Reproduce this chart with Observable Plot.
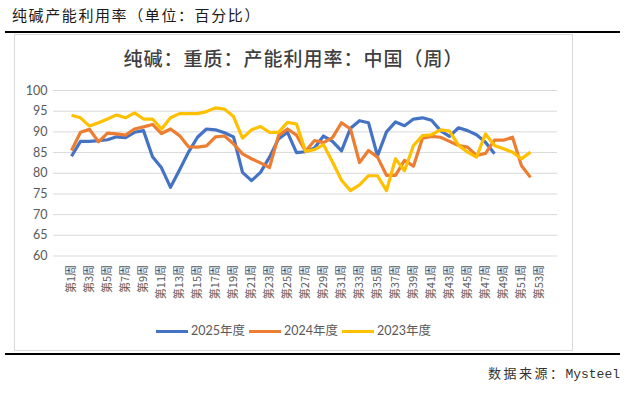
<!DOCTYPE html>
<html>
<head>
<meta charset="utf-8">
<script src="https://cdn.jsdelivr.net/npm/d3@7"></script>
<script src="https://cdn.jsdelivr.net/npm/@observablehq/plot@0.6"></script>
<style>
  html, body { margin: 0; padding: 0; background: #fff; }
  body { width: 629px; height: 393px; position: relative; overflow: hidden; font-family: "Noto Sans CJK SC", sans-serif; }
  #title { position: absolute; left: 12px; top: 5px; font-size: 15px; line-height: 20px; color: #1a1a1a; letter-spacing: 1.6px; }
  #topline { position: absolute; left: 5px; top: 31px; width: 615px; height: 2px; background: #000; }
  #box { position: absolute; left: 14px; top: 34px; width: 559px; height: 317px; border: 1px solid #d9d9d9; box-sizing: border-box; background: #fff; }
  #ctitle { position: absolute; left: 14px; width: 559px; top: 47px; text-align: center; font-size: 19px; line-height: 22px; color: #404040; letter-spacing: 1px; font-weight: 500; }
  #chart { position: absolute; left: 14px; top: 70px; }
  #legend { position: absolute; left: 14px; width: 559px; top: 323px; display: flex; justify-content: center; align-items: center; font-family: Lato, "Noto Sans CJK SC", sans-serif; font-size: 12.5px; color: #595959; line-height: 16px; }
  #legend .item { display: flex; align-items: center; margin: 0 2px; }
  #legend .sw { display: inline-block; width: 32px; height: 3px; margin-right: 3px; }
  #botline { position: absolute; left: 5px; top: 353px; width: 615px; height: 2px; background: #000; }
  #source { position: absolute; right: 9px; top: 364px; font-size: 13px; line-height: 18px; color: #333; }
  #source .cjk { letter-spacing: 2.5px; }
  #source .lat { font-family: "Liberation Mono", monospace; font-size: 13px; }
</style>
</head>
<body>
<div id="title">纯碱产能利用率（单位：百分比）</div>
<div id="topline"></div>
<div id="box"></div>
<div id="ctitle">纯碱：重质：产能利用率：中国（周）</div>
<div id="chart"></div>
<div id="legend"></div>
<div id="botline"></div>
<div id="source"><span class="cjk">数据来源：</span><span class="lat">Mysteel</span></div>
<script>
const weeks = ["第1周","第2周","第3周","第4周","第5周","第6周","第7周","第8周","第9周","第10周",
  "第11周","第12周","第13周","第14周","第15周","第16周","第17周","第18周","第19周","第20周",
  "第21周","第22周","第23周","第24周","第25周","第26周","第27周","第28周","第29周","第30周",
  "第31周","第32周","第33周","第34周","第35周","第36周","第37周","第38周","第39周","第40周",
  "第41周","第42周","第43周","第44周","第45周","第46周","第47周","第48周","第49周","第50周",
  "第51周","第52周","第53周"];

const yTicks = [60, 65, 70, 75, 80, 85, 90, 95, 100];

const seriesNames = ["2025年度", "2024年度", "2023年度"];
const seriesColors = ["#4472C4", "#ED7D31", "#FFC000"];

const values2025 = [84.1, 87.7, 87.7, 87.9, 88.1, 88.8, 88.6, 89.9, 90.3, 84.0,
  81.3, 76.6, 80.8, 85.1, 88.7, 90.7, 90.5, 89.8, 88.8, 80.2,
  78.2, 80.2, 83.9, 88.3, 89.9, 85.0, 85.2, 86.1, 89.0, 87.7,
  85.4, 90.9, 92.7, 92.2, 84.2, 90.0, 92.4, 91.5, 93.1, 93.4,
  92.8, 90.3, 88.9, 91.0, 90.3, 89.3, 87.5, 84.7];

const values2024 = [85.5, 89.9, 90.6, 87.6, 89.7, 89.5, 89.2, 90.7, 91.2, 91.8,
  89.6, 90.7, 89.1, 86.4, 86.3, 86.6, 88.8, 89.0, 87.1, 84.7,
  83.5, 82.5, 81.4, 89.1, 90.7, 89.2, 85.3, 87.9, 87.4, 88.6,
  92.2, 90.7, 82.6, 85.5, 83.9, 79.5, 79.5, 83.1, 81.7, 88.5,
  88.9, 88.7, 87.7, 86.7, 86.3, 84.3, 84.8, 88.0, 88.0, 88.7,
  81.8, 79.0];

const values2023 = [94.0, 93.4, 91.4, 92.2, 93.1, 94.1, 93.4, 94.6, 93.1, 93.1,
  90.7, 93.4, 94.4, 94.4, 94.4, 94.9, 95.8, 95.5, 93.7, 88.5,
  90.5, 91.3, 89.9, 89.9, 92.3, 91.9, 85.3, 85.7, 86.9, 82.7,
  78.3, 75.8, 77.2, 79.4, 79.4, 75.8, 83.5, 80.6, 86.7, 89.1,
  89.3, 90.5, 90.2, 86.8, 85.1, 83.9, 89.5, 86.7, 85.9, 85.1,
  83.5, 85.1];

const allValues = [values2025, values2024, values2023];
const oddWeeks = weeks.filter((w, i) => i % 2 === 0);

const lineMarks = allValues.map((vals, k) =>
  Plot.lineY(vals.map((v, i) => ({week: weeks[i], value: v})), {
    x: "week", y: "value", stroke: seriesColors[k], strokeWidth: 3.2,
    strokeLinejoin: "round", strokeLinecap: "butt"
  })
);

const chart = Plot.plot({
  width: 559,
  height: 236,
  marginLeft: 39,
  marginRight: 16,
  marginTop: 20,
  marginBottom: 50.5,
  style: {background: "transparent", fontFamily: "'Noto Sans CJK SC', sans-serif", fontSize: "11px", color: "#595959", overflow: "visible"},
  x: {type: "point", domain: weeks, padding: 0.5},
  y: {domain: [60, 100]},
  marks: [
    Plot.ruleY(yTicks, {stroke: "#d9d9d9", strokeWidth: 1}),
    Plot.axisY({ticks: yTicks, tickSize: 0, tickPadding: 6, label: null, fontSize: 12.5, fontFamily: "Lato, sans-serif", fill: "#595959"}),
    Plot.axisX({ticks: oddWeeks, tickSize: 0, tickRotate: -90, tickPadding: 9, label: null, fontSize: 11, fontFamily: "'Noto Sans CJK SC', sans-serif", fill: "#595959"}),
    ...lineMarks
  ]
});
document.getElementById("chart").appendChild(chart);

const legend = document.getElementById("legend");
seriesNames.forEach((name, k) => {
  const item = document.createElement("span");
  item.className = "item";
  const sw = document.createElement("span");
  sw.className = "sw";
  sw.style.background = seriesColors[k];
  item.appendChild(sw);
  item.appendChild(document.createTextNode(name));
  legend.appendChild(item);
});
</script>
</body>
</html>
